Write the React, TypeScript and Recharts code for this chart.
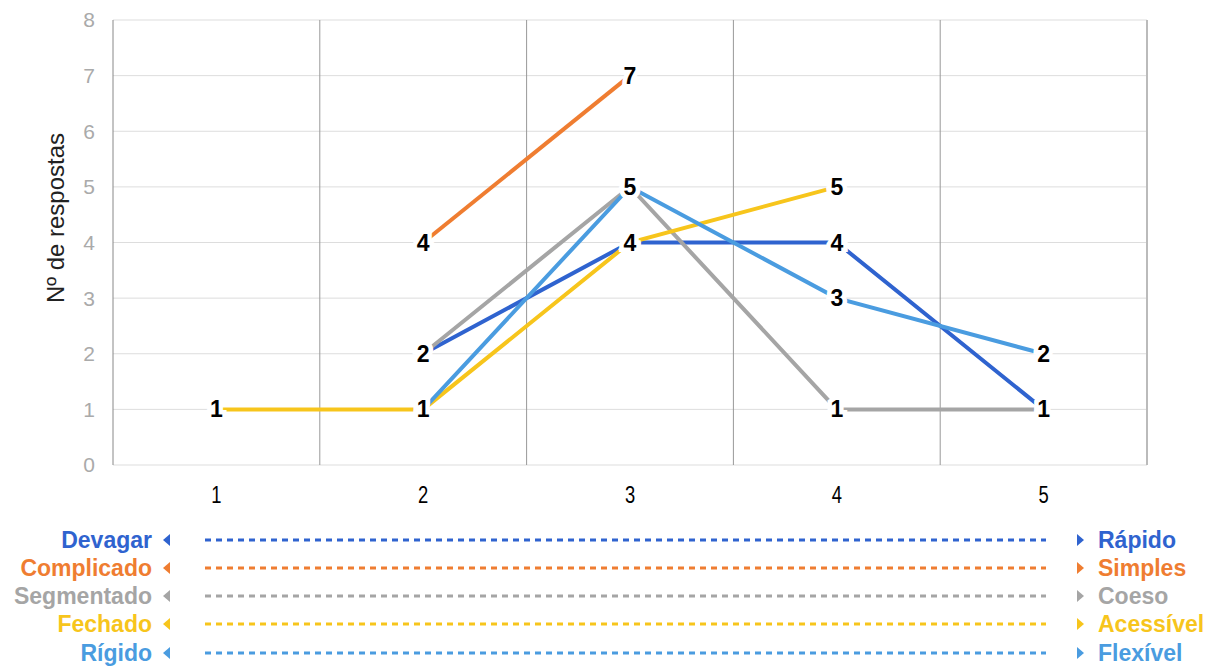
import React from "react";
import {
  LineChart,
  Line,
  XAxis,
  YAxis,
  CartesianGrid,
  ReferenceLine,
  LabelList,
  Label,
} from "recharts";

const categories = [1, 2, 3, 4, 5];
const devagar = [null, 2, 4, 4, 1];
const complicado = [null, 4, 7, null, null];
const segmentado = [null, 2, 5, 1, 1];
const fechado = [1, 1, 4, 5, null];
const rigido = [null, 1, 5, 3, 2];

const yTicks = [0, 1, 2, 3, 4, 5, 6, 7, 8];
const dividers = [1.5, 2.5, 3.5, 4.5];

const leftLabels = ["Devagar", "Complicado", "Segmentado", "Fechado", "Rígido"];
const rightLabels = ["Rápido", "Simples", "Coeso", "Acessível", "Flexível"];

const series = [
  { key: "devagar", color: "#2f63cf", label: "#333" },
  { key: "complicado", color: "#ef7d31", label: "#111" },
  { key: "segmentado", color: "#a5a5a5", label: "#333" },
  { key: "fechado", color: "#f7c51c", label: "#333" },
  { key: "rigido", color: "#4a9ce0", label: "#333" },
];

const data = categories.map((c, i) => ({
  cat: c,
  devagar: devagar[i],
  complicado: complicado[i],
  segmentado: segmentado[i],
  fechado: fechado[i],
  rigido: rigido[i],
}));

const font = "Arial, 'Liberation Sans', sans-serif";

const PointLabel = (props: any) => {
  const { x, y, value, fill } = props;
  if (value === null || value === undefined) return null;
  return (
    <text
      x={x}
      y={y}
      textAnchor="middle"
      dominantBaseline="central"
      fontFamily={font}
      fontWeight="bold"
      fontSize={23}
      fill={fill}
      stroke="#fff"
      strokeWidth={9}
      paintOrder="stroke"
    >
      {value}
    </text>
  );
};

const XTick = (props: any) => {
  const { x, y, payload } = props;
  return (
    <g transform={`translate(${x},${y})`}>
      <text
        transform="scale(0.8,1)"
        x={0}
        y={0}
        dy="0.71em"
        textAnchor="middle"
        fontFamily={font}
        fontSize={23}
        fill="#000"
      >
        {payload.value}
      </text>
    </g>
  );
};

const YTitle = () => (
  <text
    x={55}
    y={218}
    transform="rotate(-90 55 218)"
    textAnchor="middle"
    dominantBaseline="central"
    fontFamily={font}
    fontSize={24}
    fill="#222"
  >
    Nº de respostas
  </text>
);

const Legend = () => {
  const rowY = [540, 568, 596, 624, 653];
  return (
    <svg
      width={1214}
      height={666}
      style={{ position: "absolute", left: 0, top: 0, pointerEvents: "none" }}
    >
      {series.map((s, i) => {
        const y = rowY[i];
        return (
          <g key={s.key}>
            <text
              x={152}
              y={y}
              textAnchor="end"
              dominantBaseline="central"
              fontFamily={font}
              fontWeight="bold"
              fontSize={23}
              fill={s.color}
            >
              {leftLabels[i]}
            </text>
            <polygon
              points={`${163},${y} ${170},${y - 6} ${170},${y + 6}`}
              fill={s.color}
            />
            <line
              x1={205}
              x2={1046}
              y1={y}
              y2={y}
              stroke={s.color}
              strokeWidth={3}
              strokeDasharray="6 5"
            />
            <polygon
              points={`${1084},${y} ${1077},${y - 6} ${1077},${y + 6}`}
              fill={s.color}
            />
            <text
              x={1098}
              y={y}
              textAnchor="start"
              dominantBaseline="central"
              fontFamily={font}
              fontWeight="bold"
              fontSize={23}
              fill={s.color}
            >
              {rightLabels[i]}
            </text>
          </g>
        );
      })}
    </svg>
  );
};

export default function App() {
  return (
    <div
      style={{
        position: "absolute",
        left: 0,
        top: 0,
        width: 1214,
        height: 666,
        background: "#fff",
      }}
    >
      <LineChart
        width={1214}
        height={520}
        data={data}
        margin={{ top: 20, right: 67, bottom: 15, left: 0 }}
      >
        <CartesianGrid vertical={false} stroke="#dddddd" />
        <XAxis
          dataKey="cat"
          type="number"
          domain={[0.5, 5.5]}
          ticks={categories}
          axisLine={false}
          tickLine={false}
          height={40}
          tickMargin={16}
          tick={<XTick />}
        />
        <YAxis
          width={113}
          domain={[0, 8]}
          ticks={yTicks}
          axisLine={{ stroke: "#888" }}
          tickLine={false}
          tickMargin={12}
          tick={{ fill: "#aaa", fontSize: 21, fontFamily: font }}
        >
          <Label content={<YTitle />} />
        </YAxis>
        {dividers.map((d) => (
          <ReferenceLine key={d} x={d} stroke="#999" strokeWidth={1} />
        ))}
        <ReferenceLine x={5.5} stroke="#bbb" strokeWidth={2} />
        {series.map((s) => (
          <Line
            key={s.key}
            dataKey={s.key}
            stroke={s.color}
            strokeWidth={4}
            dot={false}
            activeDot={false}
            isAnimationActive={false}
            connectNulls={false}
          />
        ))}
        {series.map((s) => (
          <Line
            key={s.key + "-lbl"}
            dataKey={s.key}
            stroke="none"
            dot={false}
            activeDot={false}
            isAnimationActive={false}
            legendType="none"
          >
            <LabelList
              dataKey={s.key}
              content={<PointLabel fill={s.label} />}
            />
          </Line>
        ))}
      </LineChart>
      <Legend />
    </div>
  );
}
